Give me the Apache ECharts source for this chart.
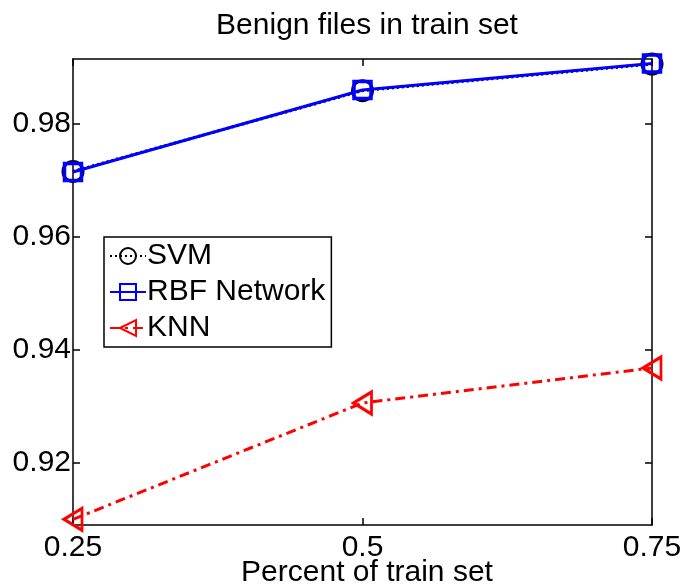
<!DOCTYPE html>
<html>
<head>
<meta charset="utf-8">
<script src="https://cdn.jsdelivr.net/npm/echarts@6/dist/echarts.min.js"></script>
<style>
  html, body { margin: 0; padding: 0; background: #fff; }
  #chart { width: 682px; height: 587px; }
</style>
</head>
<body>
<div id="chart"></div>
<script>
// x positions (percent of train set)
const trainPct = [0.25, 0.5, 0.75];
// accuracy values
const svmVals = [0.9716, 0.9859, 0.9906];
const rbfVals = [0.9715, 0.9860, 0.9907];
const knnVals = [0.9100, 0.9306, 0.9368];
const yTicks = [0.92, 0.94, 0.96, 0.98];
const xTicks = [0.25, 0.5, 0.75];

const font = '"Liberation Sans", Arial, Helvetica, sans-serif';
const pairs = vals => trainPct.map((x, i) => [x, vals[i]]);

let myChart = echarts.init(document.getElementById('chart'));
let option = {
  animation: false,
  textStyle: { fontFamily: font },
  title: [
    {
      text: 'Benign files in train set',
      left: 362, top: 6,
      textAlign: 'center',
      textStyle: { fontFamily: font, fontSize: 30, fontWeight: 'normal', color: '#000' }
    },
    {
      // x axis name
      text: 'Percent of train set',
      left: 362, top: 553,
      textAlign: 'center',
      textStyle: { fontFamily: font, fontSize: 30, fontWeight: 'normal', color: '#000' }
    }
  ],
  grid: { left: 73, right: 30, top: 59, bottom: 62, containLabel: false, outerBoundsMode: 'none' },
  legend: {
    orient: 'vertical',
    left: 104, top: 237,
    borderColor: '#000', borderWidth: 1.5,
    padding: [4, 6, 4, 5],
    itemGap: 6,
    itemWidth: 36, itemHeight: 20,
    backgroundColor: '#fff',
    textStyle: { fontFamily: font, fontSize: 30, lineHeight: 29, color: '#000', padding: [0, 0, 0, -4] },
    data: ['SVM', 'RBF Network', 'KNN']
  },
  xAxis: [
    {
      type: 'value', min: 0.25, max: 0.75, interval: 0.25,
      axisLine: { lineStyle: { color: '#000', width: 1.5 } },
      axisTick: { inside: true, length: 7, lineStyle: { color: '#000', width: 1.5 }, customValues: xTicks },
      axisLabel: { fontFamily: font, fontSize: 30, color: '#000', margin: 8, customValues: xTicks },
      splitLine: { show: false }
    },
    {
      type: 'value', position: 'top', min: 0.25, max: 0.75, interval: 0.25,
      axisLine: { lineStyle: { color: '#000', width: 1.5 } },
      axisTick: { inside: true, length: 7, lineStyle: { color: '#000', width: 1.5 }, customValues: xTicks },
      axisLabel: { show: false },
      splitLine: { show: false }
    }
  ],
  yAxis: [
    {
      type: 'value', min: 0.909, max: 0.9915,
      axisLine: { show: true, lineStyle: { color: '#000', width: 1.5 } },
      axisTick: { show: true, inside: true, length: 7, lineStyle: { color: '#000', width: 1.5 }, customValues: yTicks },
      axisLabel: { fontFamily: font, fontSize: 30, color: '#000', margin: 2, customValues: yTicks },
      splitLine: { show: false }
    },
    {
      type: 'value', position: 'right', min: 0.909, max: 0.9915,
      axisLine: { show: true, lineStyle: { color: '#000', width: 1.5 } },
      axisTick: { show: true, inside: true, length: 7, lineStyle: { color: '#000', width: 1.5 }, customValues: yTicks },
      axisLabel: { show: false },
      splitLine: { show: false }
    }
  ],
  series: [
    {
      name: 'SVM', type: 'line', data: pairs(svmVals),
      symbol: 'circle', symbolSize: 20,
      lineStyle: { color: '#000', width: 3, type: [2, 3] },
      itemStyle: { color: 'rgba(0,0,0,0)', borderColor: '#000', borderWidth: 3 },
      z: 2
    },
    {
      name: 'RBF Network', type: 'line', data: pairs(rbfVals),
      symbol: 'rect', symbolSize: 17,
      lineStyle: { color: '#0000ff', width: 3 },
      itemStyle: { color: 'rgba(0,0,0,0)', borderColor: '#0000ff', borderWidth: 3.5 },
      z: 3
    },
    {
      name: 'KNN', type: 'line', data: pairs(knnVals),
      symbol: 'path://M0,10 L16,0 L16,20 Z', symbolSize: [18, 22],
      lineStyle: { color: '#ff0000', width: 3, type: [10, 5, 3, 5] },
      itemStyle: { color: 'rgba(0,0,0,0)', borderColor: '#ff0000', borderWidth: 3 },
      z: 3
    }
  ]
};
myChart.setOption(option);
</script>
</body>
</html>
